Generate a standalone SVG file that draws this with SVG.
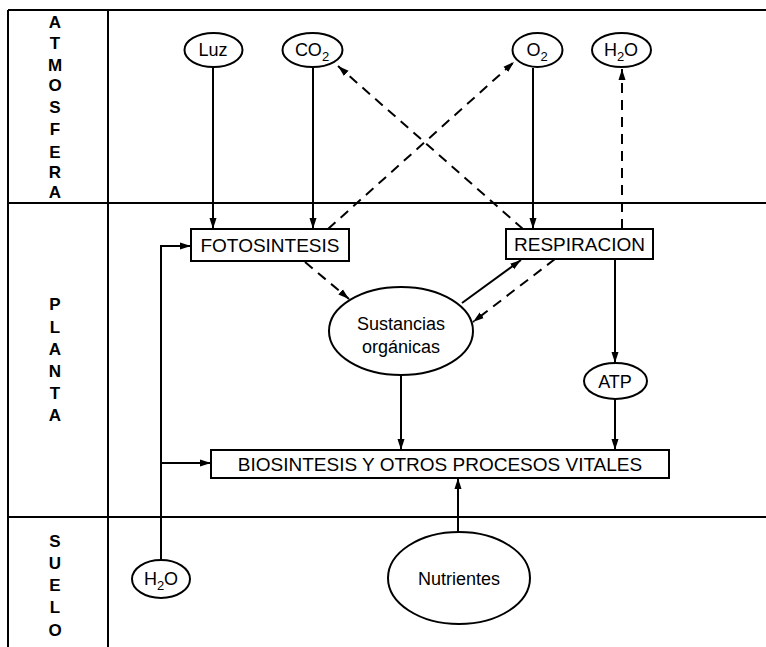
<svg xmlns="http://www.w3.org/2000/svg" width="766" height="647" viewBox="0 0 766 647">
<style>
.frame{stroke:#000;stroke-width:2;fill:none}
.side{font-family:"Liberation Sans",Arial,sans-serif;font-size:17px;font-weight:bold;text-anchor:middle;fill:#000}
.shape{fill:#fff;stroke:#000;stroke-width:2}
.t{font-family:"Liberation Sans",Arial,sans-serif;font-size:19px;text-anchor:middle;fill:#000}
.s{font-family:"Liberation Sans",Arial,sans-serif;font-size:18px;text-anchor:middle;fill:#000}
.c{stroke:#000;stroke-width:2;fill:none;marker-end:url(#ah)}
.d{stroke-dasharray:10 7}
</style>
<defs>
<marker id="ah" markerUnits="userSpaceOnUse" markerWidth="12" markerHeight="8" refX="11" refY="4" orient="auto">
<path d="M0,0.5 L11,4 L0,7.5 z" fill="#000"/>
</marker>
</defs>
<rect width="766" height="647" fill="#fff"/>
<g id="frame">
<line class="frame" x1="8" y1="10" x2="766" y2="10"/>
<line class="frame" x1="8" y1="10" x2="8" y2="647"/>
<line class="frame" x1="108" y1="10" x2="108" y2="647"/>
<line class="frame" x1="8" y1="203" x2="766" y2="203"/>
<line class="frame" x1="8" y1="517" x2="766" y2="517"/>
</g>
<g id="label-atmosfera" class="side">
<text x="55" y="28">A</text><text x="55" y="49">T</text><text x="55" y="71">M</text><text x="55" y="91">O</text><text x="55" y="113">S</text><text x="55" y="135">F</text><text x="55" y="158">E</text><text x="55" y="178">R</text><text x="55" y="198">A</text>
</g>
<g id="label-planta" class="side">
<text x="55" y="310">P</text><text x="55" y="333">L</text><text x="55" y="355">A</text><text x="55" y="377">N</text><text x="55" y="399">T</text><text x="55" y="421">A</text>
</g>
<g id="label-suelo" class="side">
<text x="55" y="547">S</text><text x="55" y="569">U</text><text x="55" y="591">E</text><text x="55" y="613">L</text><text x="55" y="636">O</text>
</g>
<g id="connectors">
<line class="c" x1="213" y1="68" x2="213" y2="229"/>
<line class="c" x1="313" y1="68" x2="313" y2="229"/>
<line class="c d" x1="328" y1="229" x2="514" y2="62"/>
<line class="c d" x1="523" y1="229" x2="338" y2="66"/>
<line class="c" x1="533" y1="68" x2="533" y2="229"/>
<line class="c d" x1="622" y1="229" x2="622" y2="69"/>
<line class="c d" x1="305" y1="262" x2="349" y2="299"/>
<line class="c" x1="462" y1="303" x2="521" y2="260"/>
<line class="c d" x1="555" y1="259" x2="473" y2="322"/>
<line class="c" x1="615" y1="259" x2="615" y2="363"/>
<line class="c" x1="615" y1="399" x2="615" y2="450"/>
<line class="c" x1="401" y1="375" x2="401" y2="450"/>
<line class="c" x1="458" y1="532" x2="458" y2="478"/>
<polyline class="c" points="161,560 161,246 191,246"/>
<line class="c" x1="161" y1="463" x2="211" y2="463"/>
</g>
<g id="luz"><ellipse class="shape" cx="213.5" cy="50" rx="29" ry="17"/><text class="s" x="213" y="56">Luz</text></g>
<g id="co2"><ellipse class="shape" cx="312.5" cy="50" rx="30" ry="17"/><text class="s" x="312" y="56">CO<tspan font-size="13" dy="5">2</tspan></text></g>
<g id="o2"><ellipse class="shape" cx="537.5" cy="50" rx="25" ry="17"/><text class="s" x="537" y="56">O<tspan font-size="13" dy="5">2</tspan></text></g>
<g id="h2o-atm"><ellipse class="shape" cx="621.5" cy="50" rx="29.5" ry="17"/><text class="s" x="621" y="56">H<tspan font-size="13" dy="5">2</tspan><tspan dy="-5">O</tspan></text></g>
<g id="fotosintesis"><rect class="shape" x="191" y="229" width="158" height="32"/><text class="t" x="270" y="252">FOTOSINTESIS</text></g>
<g id="respiracion"><rect class="shape" x="506" y="229" width="147" height="30"/><text class="t" x="579.5" y="251">RESPIRACION</text></g>
<g id="sustancias"><ellipse class="shape" cx="401" cy="331" rx="72" ry="44"/><text class="s" x="401" y="330" font-size="19.5">Sustancias</text><text class="s" x="401" y="353" font-size="19.5">orgánicas</text></g>
<g id="atp"><ellipse class="shape" cx="615.5" cy="381" rx="31.5" ry="18"/><text class="s" x="615" y="388">ATP</text></g>
<g id="biosintesis"><rect class="shape" x="211" y="450" width="458" height="28"/><text class="t" x="440" y="471">BIOSINTESIS Y OTROS PROCESOS VITALES</text></g>
<g id="h2o-suelo"><ellipse class="shape" cx="161" cy="579" rx="29" ry="19"/><text class="s" x="161" y="585">H<tspan font-size="13" dy="5">2</tspan><tspan dy="-5">O</tspan></text></g>
<g id="nutrientes"><ellipse class="shape" cx="459" cy="578" rx="71" ry="46"/><text class="s" x="459" y="585" font-size="20.5">Nutrientes</text></g>
</svg>
